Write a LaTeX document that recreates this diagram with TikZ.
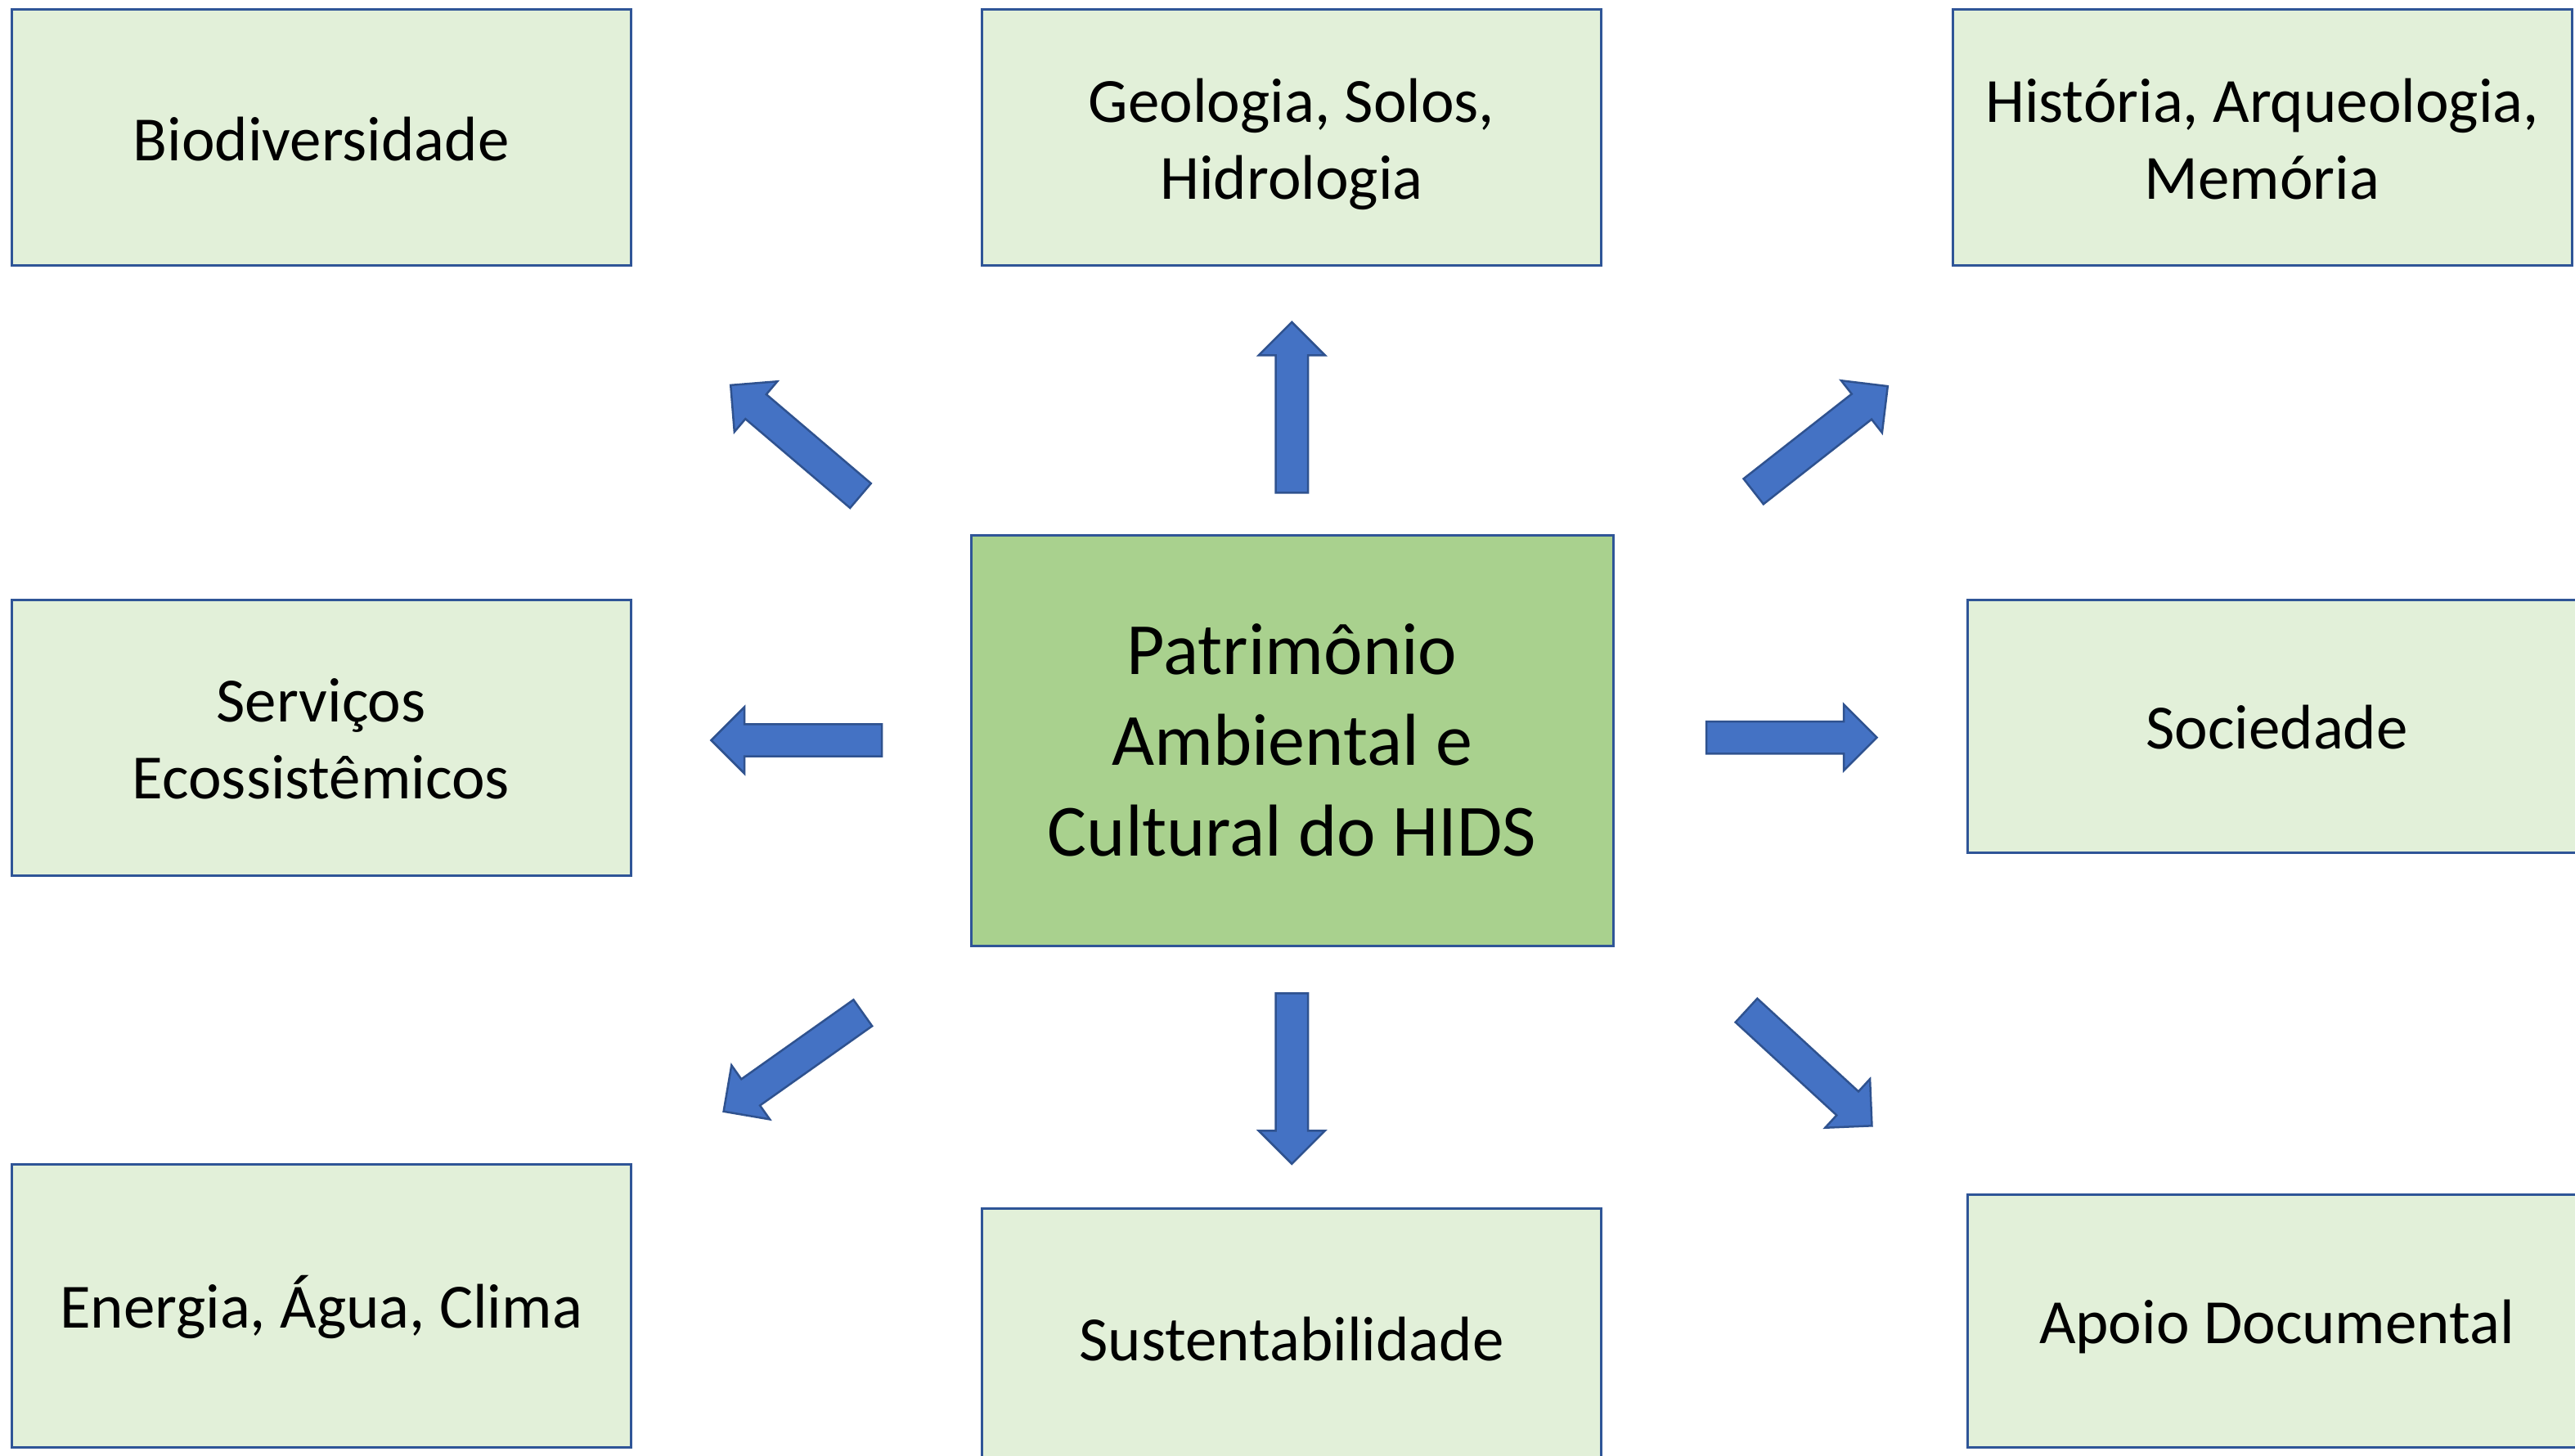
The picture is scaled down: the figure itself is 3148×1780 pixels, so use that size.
\documentclass[tikz,border=0pt]{standalone}
\usepackage{fontspec}
\setmainfont{Carlito}
\definecolor{boxfill}{HTML}{E2F0D9}
\definecolor{centerfill}{HTML}{A9D18E}
\definecolor{boxline}{HTML}{2F5597}
\definecolor{arrowfill}{HTML}{4472C4}
\definecolor{arrowline}{HTML}{2F528F}
\newcommand{\tstrut}{\rule[-5.2pt]{0pt}{26.2pt}}
\begin{document}
\begin{tikzpicture}[x=0.1mm,y=-0.1mm,
  topicbox/.style={draw=boxline, line width=0.3mm, fill=boxfill, rectangle,
    minimum width=75.7mm, inner sep=0pt, align=center,
    font=\fontsize{21.9pt}{26.7pt}\selectfont},
  hubbox/.style={draw=boxline, line width=0.3mm, fill=centerfill, rectangle,
    minimum width=78.5mm, minimum height=50.2mm, inner sep=0pt, align=center,
    font=\fontsize{25.6pt}{31.6pt}\selectfont},
  arrowbody/.style={draw=arrowline, line width=0.25mm, fill=arrowfill, line join=miter},
  blockarrow/.pic={\path[arrowbody] (0,-19.7) -- (168,-19.7) -- (168,-40.5) -- (208.5,0)
      -- (168,40.5) -- (168,19.7) -- (0,19.7) -- cycle;}
]
\useasboundingbox (0,0) rectangle (3148,1780);

\node[topicbox, minimum height=31.3mm] (bio)  at (392.5,168.5) {\tstrut Biodiversidade};
\node[topicbox, minimum height=31.3mm] (geo)  at (1579,168.5) {\tstrut Geologia, Solos,\\\tstrut Hidrologia};
\node[topicbox, minimum height=31.3mm] (hist) at (2765.5,168.5) {\tstrut História, Arqueologia,\\\tstrut Memória};
\node[topicbox, minimum height=33.7mm] (serv) at (392.5,901.5) {\tstrut Serviços\\\tstrut Ecossistêmicos};
\node[hubbox] (hub) at (1579.5,905) {Patrimônio\\Ambiental e\\Cultural do HIDS};
\node[topicbox, minimum height=30.9mm] (soc)  at (2783.5,887.5) {\tstrut Sociedade};
\node[topicbox, minimum height=34.6mm] (ener) at (392.5,1596) {\tstrut Energia, Água, Clima};
\node[topicbox, minimum height=31.8mm] (sust) at (1579,1636) {\tstrut Sustentabilidade};
\node[topicbox, minimum height=30.9mm] (apoio) at (2783.5,1614.5) {\tstrut Apoio Documental};

\coordinate (aUp) at (1579.3,602.3);
\coordinate (aDown) at (1579.3,1214.3);
\coordinate (aLeft) at (1078,905);
\coordinate (aRight) at (2086,901.7);
\coordinate (aUL) at (1052,606);
\coordinate (aUR) at (2143.7,600.8);
\coordinate (aDL) at (1054.8,1238.3);
\coordinate (aDR) at (2135,1235.2);

\pic[rotate=90] at (aUp) {blockarrow};
\pic[rotate=270] at (aDown) {blockarrow};
\pic[rotate=180] at (aLeft) {blockarrow};
\pic[rotate=0] at (aRight) {blockarrow};
\pic[rotate=139.6] at (aUL) {blockarrow};
\pic[rotate=38.1] at (aUR) {blockarrow};
\pic[rotate=215.3] at (aDL) {blockarrow};
\pic[rotate=-42.6] at (aDR) {blockarrow};
\end{tikzpicture}
\end{document}
